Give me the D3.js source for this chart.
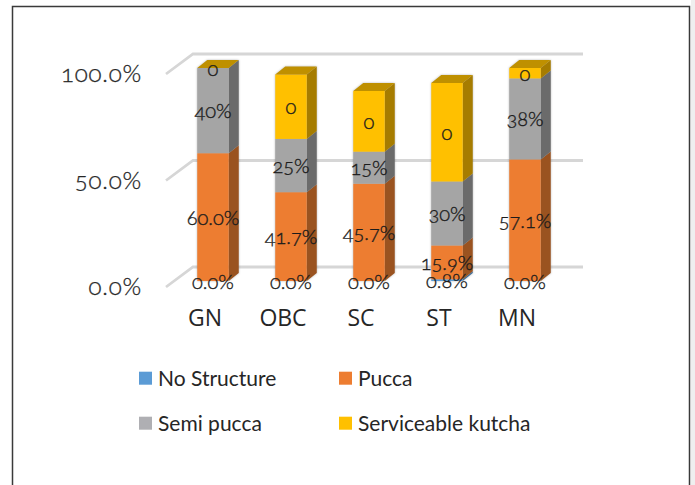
<!DOCTYPE html>
<html><head><meta charset="utf-8">
<script src="https://cdn.jsdelivr.net/npm/d3@7"></script>
<style>
html,body{margin:0;padding:0;background:#fff;}
svg{display:block;}
text{fill:#262626;}
.tick-y{font-family:"Lato","Open Sans",sans-serif;font-size:24px;font-weight:300;letter-spacing:0.8px;stroke:#262626;stroke-width:0.3px;font-feature-settings:"onum" 1;font-variant-numeric:oldstyle-nums;}
.cat{font-family:"Open Sans",sans-serif;font-size:23px;}
.lab{font-family:"Lato","Open Sans",sans-serif;font-size:20px;font-weight:300;fill:#1c1c1c;stroke:#1c1c1c;stroke-width:0.35px;font-feature-settings:"onum" 1;font-variant-numeric:oldstyle-nums;}
.leg{font-family:"Lato",sans-serif;font-size:21px;}
</style></head><body>
<svg id="c" width="695" height="485"></svg>
<script>
const categories=["GN","OBC","SC","ST","MN"];
const seriesNames=["No Structure","Pucca","Semi pucca","Serviceable kutcha"];
const noStructure=[0,0,0,0.8,0];
const pucca=[60,41.7,45.7,15.9,57.1];
const semiPucca=[40,25,15,30,38];
const kutcha=[0,30.3,28.5,46.3,4.9];
const noStructureLabels=["0.0%","0.0%","0.0%","0.8%","0.0%"];
const puccaLabels=["60.0%","41.7%","45.7%","15.9%","57.1%"];
const semiPuccaLabels=["40%","25%","15%","30%","38%"];
const kutchaLabels=["0","0","0","0","0"];
const yTicks=[0,50,100];
const yTickLabels=["0.0%","50.0%","100.0%"];
const front=["#5B9BD5","#ED7D31","#A5A5A5","#FFC000"];
const side=["#3E6C96","#9A5320","#6B6B6B","#A67C00"];
const legendSw=["#5B9BD5","#ED7D31","#AFAFB3","#FFC000"];
const topFace="#BF9000";

const svg=d3.select("#c");
svg.append("rect").attr("x",691).attr("y",0).attr("width",4).attr("height",485).attr("fill","#efefef");
svg.append("path").attr("d","M12.5,485V6.5H689.5V485").attr("fill","none").attr("stroke","#3a3a3a").attr("stroke-width",1.5);

const y=d3.scaleLinear().domain([0,100]).range([281,68]);
const x=d3.scaleBand().domain(categories).range([174,564]).paddingInner(0.596).paddingOuter(0.298);
const dx=10,dy=8;

// gridlines on walls
const g=svg.append("g").attr("fill","none").attr("stroke","#d6d6d6").attr("stroke-width",2.8);
yTicks.forEach(t=>{
  const l=d3.path();
  l.moveTo(166,y(t)+6); l.lineTo(193,y(t)-14); l.lineTo(583,y(t)-14);
  g.append("path").attr("d",l.toString());
});
svg.selectAll(".tick-y").data(yTicks).join("text").attr("class","tick-y")
  .attr("x",142).attr("y",d=>y(d)+6).attr("dy","0.35em").attr("text-anchor","end")
  .text((d,i)=>yTickLabels[i]);

// bars
const rows=categories.map((c,i)=>({c,a:noStructure[i],b:pucca[i],d:semiPucca[i],e:kutcha[i]}));
const stacked=d3.stack().keys(["a","b","d","e"])(rows);
const poly=pts=>"M"+pts.map(p=>p.join(",")).join("L")+"Z";
const bars=svg.append("g").style("filter","drop-shadow(0 0 1px rgba(0,0,0,.28))");
categories.forEach((c,i)=>{
  const bar=bars.append("g"), x0=x(c), x1=x0+x.bandwidth();
  stacked.forEach((s,k)=>{
    const y0=y(s[i][0]), y1=y(s[i][1]);
    if(y0-y1<=0) return;
    bar.append("path").attr("d",poly([[x1,y0],[x1+dx,y0-dy],[x1+dx,y1-dy],[x1,y1]])).attr("fill",side[k]);
    bar.append("rect").attr("x",x0).attr("y",y1).attr("width",x.bandwidth()).attr("height",y0-y1).attr("fill",front[k]);
  });
  const t=y(stacked[3][i][1]);
  bar.append("path").attr("d",poly([[x0,t],[x1,t],[x1+dx,t-dy],[x0+dx,t-dy]])).attr("fill",topFace);
});

// data labels
const labelSets=[noStructureLabels,puccaLabels,semiPuccaLabels,kutchaLabels];
[0,1,2,3].forEach(k=>{
  categories.forEach((c,i)=>{
    const s=stacked[k][i];
    svg.append("text").attr("class","lab").attr("text-anchor","middle")
      .attr("x",x(c)+x.bandwidth()/2).attr("y",y((s[0]+s[1])/2)+0.5)
      .attr("dy","0.35em").text(labelSets[k][i]);
  });
});

// categories
svg.selectAll(".cat").data(categories).join("text").attr("class","cat").attr("text-anchor","middle")
  .attr("x",d=>x(d)+x.bandwidth()/2-8).attr("y",318).attr("dy","0.35em").text(d=>d);

// legend
const lx=d3.scalePoint().domain([0,1]).range([139,339]);
const ly=d3.scalePoint().domain([0,1]).range([371.7,416.7]);
seriesNames.forEach((n,i)=>{
  const px=lx(i%2), py=ly(Math.floor(i/2));
  svg.append("rect").attr("x",px).attr("y",py).attr("width",13).attr("height",13).attr("fill",legendSw[i]);
  svg.append("text").attr("class","leg").attr("x",px+19).attr("y",py+6.5).attr("dy","0.35em").text(n);
});
</script></body></html>
